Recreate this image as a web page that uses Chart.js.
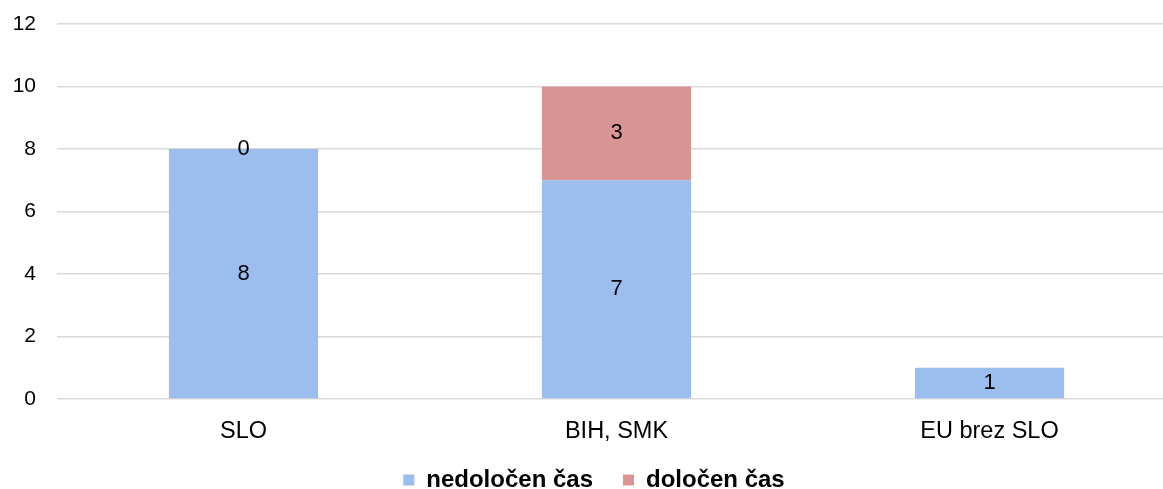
<!DOCTYPE html>
<html>
<head>
<meta charset="utf-8">
<script src="https://cdn.jsdelivr.net/npm/chart.js@4"></script>
<style>
  html, body { margin: 0; padding: 0; background: #fff; overflow: hidden; }
  #wrap { position: absolute; left: 0; top: 0; width: 1176px; height: 489px; }
</style>
</head>
<body>
<div id="wrap"><canvas id="chart"></canvas></div>
<script>
const categories = ['SLO', 'BIH, SMK', 'EU brez SLO'];
const nedolocen = [8, 7, 1];
const dolocen = [0, 3, null];
const seriesNames = ['nedoločen čas', 'določen čas'];

const FONT = '"Liberation Sans", Arial, sans-serif';

// izpis vrednosti na sredini stolpcev
const barLabels = {
  id: 'barLabels',
  afterDatasetsDraw(chart) {
    const ctx = chart.ctx;
    ctx.save();
    ctx.font = '22px ' + FONT;
    ctx.fillStyle = '#000';
    ctx.textAlign = 'center';
    ctx.textBaseline = 'middle';
    chart.data.datasets.forEach((ds, i) => {
      chart.getDatasetMeta(i).data.forEach((bar, j) => {
        const v = ds.data[j];
        if (v === null || v === undefined) return;
        const y = (bar.y + bar.base) / 2;
        ctx.fillText(String(v), bar.x, y);
      });
    });
    ctx.restore();
  }
};

// legenda: večji razmik med elementi, a nižja višina in malo višje
const legendFix = {
  id: 'legendFix',
  afterInit(chart) {
    const legend = chart.legend;
    const fit = legend.fit;
    legend.fit = function () {
      fit.call(this);
      this.height = 46;
    };
    const draw = legend.draw;
    legend.draw = function () {
      const top = this.top;
      this.top = top - 5;
      draw.call(this);
      this.top = top;
    };
  }
};

new Chart(document.getElementById('chart'), {
  type: 'bar',
  data: {
    labels: categories,
    datasets: [
      {
        label: seriesNames[0],
        data: nedolocen,
        backgroundColor: '#9BBEEF',
        categoryPercentage: 1,
        barPercentage: 0.4
      },
      {
        label: seriesNames[1],
        data: dolocen,
        backgroundColor: '#D99593',
        categoryPercentage: 1,
        barPercentage: 0.4
      }
    ]
  },
  options: {
    responsive: true,
    maintainAspectRatio: false,
    animation: false,
    layout: { padding: { top: 24, left: 12, right: 0, bottom: 0 } },
    plugins: {
      tooltip: { enabled: false },
      legend: {
        position: 'bottom',
        labels: {
          boxWidth: 11,
          boxHeight: 11,
          padding: 30,
          color: '#000',
          font: { family: FONT, size: 24, weight: 'bold' }
        }
      }
    },
    scales: {
      x: {
        stacked: true,
        afterFit(scale) { scale.height = 44; },
        grid: { display: false },
        border: { display: false },
        ticks: {
          color: '#000',
          padding: 10,
          font: { family: FONT, size: 23.5 }
        }
      },
      y: {
        stacked: true,
        min: 0,
        max: 12,
        afterFit(scale) { scale.width = 45; },
        grid: { color: '#D9D9D9', lineWidth: 1.5, drawTicks: true, tickLength: 21, tickColor: 'rgba(0,0,0,0)' },
        border: { display: false },
        ticks: {
          stepSize: 2,
          color: '#000',
          padding: 0,
          font: { family: FONT, size: 21 }
        }
      }
    }
  },
  plugins: [barLabels, legendFix]
});
</script>
</body>
</html>
